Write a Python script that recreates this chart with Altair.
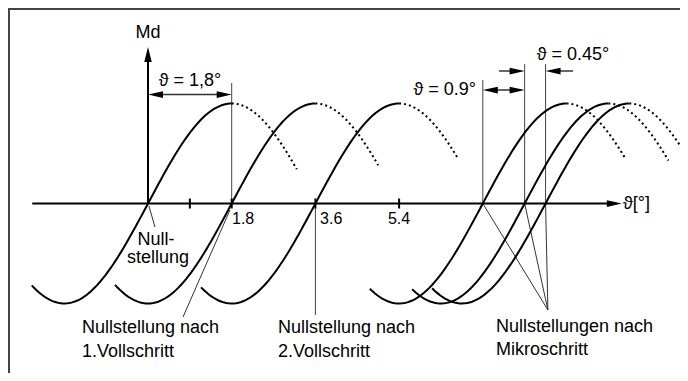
import altair as alt
import numpy as np
import pandas as pd

# ---- data (degrees on x, normalised torque Md on y) ----
PERIOD = 7.2
phases = [0.0, 1.8, 3.6, 7.2, 8.1, 8.55]            # zero crossings of each torque curve
curve_start = [-2.5, -0.71, 1.14, 4.77, 5.68, 6.11]  # where each curve begins (deg)
curve_dot_end = [3.2, 4.95, 6.65, 10.26, 11.19, 11.58]  # where the dotted tail ends (deg)

tick_pos = [0.9, 1.8, 3.6, 5.4]
tick_labels = ["1.8", "3.6", "5.4"]

rows_solid, rows_dot = [], []
for i, (p, s, e) in enumerate(zip(phases, curve_start, curve_dot_end)):
    xs_ = np.linspace(s, p + 1.8, 80)
    for x in xs_:
        rows_solid.append({"x": x, "y": np.sin(2 * np.pi * (x - p) / PERIOD), "c": i})
    xd = np.linspace(p + 1.8, e, 40)
    for x in xd:
        rows_dot.append({"x": x, "y": np.sin(2 * np.pi * (x - p) / PERIOD), "c": i})
solid = pd.DataFrame(rows_solid)
dotted = pd.DataFrame(rows_dot)

axes = pd.DataFrame({"x": [-2.49, 0.0], "x2": [10.0, 0.0], "y": [0.0, 0.0], "y2": [0.0, 1.45]})
ticks = pd.DataFrame({"x": tick_pos, "x2": tick_pos, "y": [-0.05] * 4, "y2": [0.05] * 4})
guides = pd.DataFrame({
    "x":  [1.8, 7.2, 8.1, 8.55, 3.6],
    "x2": [1.8, 7.2, 8.1, 8.55, 3.6],
    "y":  [0, 0, 0, 0, 0],
    "y2": [1.205, 1.235, 1.395, 1.395, -1.115],
})
pointers = pd.DataFrame({
    "x":  [0.02, 1.763, 7.2, 8.1, 8.55],
    "y":  [-0.025, -0.065, 0.0, 0.0, 0.0],
    "x2": [0.15, 0.753, 8.6, 8.6, 8.6],
    "y2": [-0.235, -1.135, -1.065, -1.065, -1.065],
})
shafts = pd.DataFrame({
    "x":  [0.2, 7.35, 7.55, 9.14],
    "x2": [1.6, 7.95, 7.95, 8.7],
    "y":  [1.09, 1.135, 1.325, 1.325],
    "y2": [1.09, 1.135, 1.325, 1.325],
})
heads = pd.DataFrame({
    "x":   [10.19, 0.0, 0.0, 1.8, 7.2, 8.1, 8.1, 8.55],
    "y":   [0.0, 1.565, 1.09, 1.09, 1.135, 1.135, 1.325, 1.325],
    "dir": ["right", "up", "left", "right", "left", "right", "right", "left"],
})

A, T = 18, 16  # annotation / tick label font sizes
texts_left = pd.DataFrame({
    "x": [10.215, 1.806, 3.70, -1.419, -1.419, 2.796, 2.796, 7.484, 7.484],
    "y": [0.0, -0.155, -0.155, -1.245, -1.485, -1.245, -1.485, -1.235, -1.465],
    "t": ["ϑ[°]", tick_labels[0], tick_labels[1], "Nullstellung nach", "1.Vollschritt",
          "Nullstellung nach", "2.Vollschritt", "Nullstellungen nach", "Mikroschritt"],
    "s": [A, T, T, A, A, A, A, A, A],
})
texts_center = pd.DataFrame({
    "x": [0.0, 5.40, 0.172, 0.215, 0.903, 9.14],
    "y": [1.705, -0.155, -0.36, -0.545, 1.225, 1.485],
    "t": ["Md", tick_labels[2], "Null-", "stellung", "ϑ = 1,8°", "ϑ = 0.45°"],
    "s": [A, T, A, A, A, A],
})
texts_right = pd.DataFrame({"x": [7.054], "y": [1.135], "t": ["ϑ = 0.9°"], "s": [A]})

# ---- scales ----
W, H = 672, 365
X0, PXD = 140.0, 46.5
Y0, PXU = 195.5, 100.0
XMIN, XMAX = -X0 / PXD, (W - X0) / PXD
YMIN, YMAX = -(H - Y0) / PXU, Y0 / PXU
xs = alt.Scale(domain=[XMIN, XMAX], nice=False, zero=False)
ys = alt.Scale(domain=[YMIN, YMAX], nice=False, zero=False)
X = lambda f="x": alt.X(f"{f}:Q", scale=xs, axis=None)
Y = lambda f="y": alt.Y(f"{f}:Q", scale=ys, axis=None)

frame = pd.DataFrame({
    "x":  [XMIN + 1 / PXD, XMIN],
    "x2": [XMIN + 1 / PXD, XMAX],
    "y":  [YMIN, YMAX - 1 / PXU],
    "y2": [YMAX, YMAX - 1 / PXU],
})

solid_l = alt.Chart(solid).mark_line(color="black", strokeWidth=2, clip=True).encode(
    x=X(), y=Y(), detail="c:N", order="x:Q")
dot_l = alt.Chart(dotted).mark_line(color="black", strokeWidth=2, strokeDash=[2, 3], clip=True).encode(
    x=X(), y=Y(), detail="c:N", order="x:Q")

def rules(df, color, w):
    return alt.Chart(df).mark_rule(color=color, strokeWidth=w).encode(
        x=X(), x2="x2:Q", y=Y(), y2="y2:Q")

frame_l = rules(frame, "#444444", 2)
axes_l = rules(axes, "black", 2)
ticks_l = rules(ticks, "black", 2)
guides_l = rules(guides, "#444444", 1)
pointers_l = rules(pointers, "#333333", 1)
shafts_l = rules(shafts, "#333333", 1.5)

head_l = alt.Chart(heads).mark_point(filled=True, opacity=1, color="black", size=225).encode(
    x=X(), y=Y(),
    shape=alt.Shape("dir:N", legend=None, scale=alt.Scale(
        domain=["right", "left", "up"],
        range=["M0,0L-2,-0.45L-2,0.45Z", "M0,0L2,-0.45L2,0.45Z", "M0,0L-0.5,2L0.5,2Z"])),
)

def txt(df, align):
    return alt.Chart(df).mark_text(align=align, baseline="middle", font="Liberation Sans",
                                   color="black").encode(
        x=X(), y=Y(), text="t:N", size=alt.Size("s:Q", scale=None, legend=None))

chart = alt.layer(
    frame_l, guides_l, pointers_l, shafts_l, solid_l, dot_l, axes_l, ticks_l, head_l,
    txt(texts_left, "left"), txt(texts_center, "center"), txt(texts_right, "right"),
).properties(width=W, height=H, padding=0, autosize=alt.AutoSizeParams(type="none")
).configure_view(strokeWidth=0, stroke="transparent").configure(background="white")

chart.save("out.html", embed_options={"renderer": "svg", "actions": False})
